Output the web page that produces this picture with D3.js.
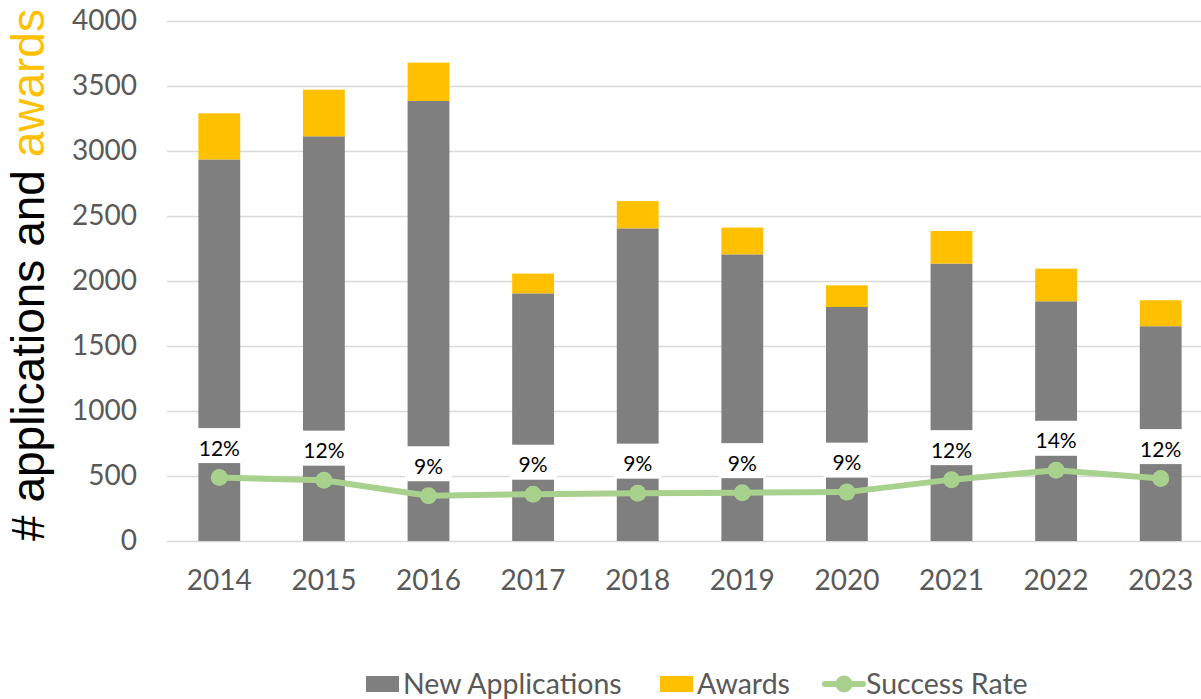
<!DOCTYPE html>
<html>
<head>
<meta charset="utf-8">
<script src="https://cdn.jsdelivr.net/npm/d3@7"></script>
<style>
  body { margin: 0; background: #fff; }
  svg { display: block; }
</style>
</head>
<body>
<div id="chart"></div>
<script>
// Data
const years = ['2014', '2015', '2016', '2017', '2018', '2019', '2020', '2021', '2022', '2023'];
const newApplications = [2935, 3113, 3385, 1905, 2405, 2205, 1800, 2134, 1844, 1652];
const awards = [355, 359, 295, 152, 210, 206, 167, 251, 251, 200];
const successRate = [0.122, 0.117, 0.087, 0.090, 0.092, 0.093, 0.094, 0.118, 0.136, 0.120];
const yTicks = [0, 500, 1000, 1500, 2000, 2500, 3000, 3500, 4000];

const width = 1201;
const height = 699;
const margin = { top: 21, right: -12, bottom: 158, left: 167 };
const innerWidth = width - margin.left - margin.right;
const innerHeight = height - margin.top - margin.bottom;

const grey = '#7f7f7f';
const gold = '#ffc000';
const green = '#a9d18e';
const textGrey = '#595959';
const gridGrey = '#d9d9d9';
const calibri = 'Lato, "Open Sans", sans-serif';

const svg = d3.select('#chart')
    .append('svg')
    .attr('width', width)
    .attr('height', height);

const g = svg.append('g')
    .attr('transform', `translate(${margin.left},${margin.top})`);

// Scales
const xScale = d3.scaleBand()
    .domain(years)
    .range([0, innerWidth])
    .paddingInner(0.6)
    .paddingOuter(0.3);

const yScale = d3.scaleLinear()
    .domain([0, 4000])
    .range([innerHeight, 0]);

// hidden secondary axis for the rate
const rateScale = d3.scaleLinear()
    .domain([0, 1])
    .range([innerHeight, 0]);

// Y axis with gridlines
const yAxis = g.append('g')
    .attr('class', 'y-axis')
    .call(d3.axisLeft(yScale)
        .tickValues(yTicks)
        .tickFormat(d3.format('d'))
        .tickSize(-innerWidth)
        .tickPadding(30));
yAxis.select('.domain').remove();
yAxis.selectAll('line').attr('stroke', gridGrey).attr('stroke-width', 1.5);
yAxis.selectAll('text')
    .attr('fill', textGrey)
    .style('font-family', calibri)
    .style('font-size', '28px');

// X axis labels
const xAxis = g.append('g')
    .attr('class', 'x-axis')
    .attr('transform', `translate(0,${innerHeight})`)
    .call(d3.axisBottom(xScale).tickSize(0));
xAxis.select('.domain').remove();
xAxis.selectAll('text')
    .attr('y', 39)
    .attr('dy', '0.35em')
    .attr('fill', textGrey)
    .style('font-family', calibri)
    .style('font-size', '28px');

// Stacked bars
const rows = years.map((year, i) => ({ year, newApps: newApplications[i], awards: awards[i], rate: successRate[i] }));
const stack = d3.stack().keys(['newApps', 'awards'])(rows);
const colors = { newApps: grey, awards: gold };

g.selectAll('.series')
    .data(stack)
    .enter()
    .append('g')
    .attr('class', 'series')
    .attr('fill', d => colors[d.key])
    .selectAll('rect')
    .data(d => d)
    .enter()
    .append('rect')
    .attr('x', d => xScale(d.data.year))
    .attr('y', d => yScale(d[1]))
    .attr('width', xScale.bandwidth())
    .attr('height', d => yScale(d[0]) - yScale(d[1]));

// Success rate labels (white boxes)
const fmt = d3.format('.0%');
const labels = g.selectAll('.rate-label')
    .data(rows)
    .enter()
    .append('g')
    .attr('class', 'rate-label')
    .attr('transform', d => `translate(${xScale(d.year) + xScale.bandwidth() / 2},${rateScale(d.rate)})`);

labels.append('rect')
    .attr('fill', '#fff');

labels.append('text')
    .attr('text-anchor', 'middle')
    .attr('y', -22)
    .attr('fill', '#000')
    .style('font-family', calibri)
    .style('font-size', '21px')
    .text(d => fmt(d.rate));

labels.each(function () {
    const grp = d3.select(this);
    const w = grp.select('text').node().getComputedTextLength() + 18;
    grp.select('rect')
        .attr('x', -w / 2)
        .attr('y', -49.5)
        .attr('width', w)
        .attr('height', 35);
});

// Success rate line
const line = d3.line()
    .x(d => xScale(d.year) + xScale.bandwidth() / 2)
    .y(d => rateScale(d.rate));

g.append('path')
    .datum(rows)
    .attr('d', line)
    .attr('fill', 'none')
    .attr('stroke', green)
    .attr('stroke-width', 6)
    .attr('stroke-linejoin', 'round');

g.selectAll('.point')
    .data(rows)
    .enter()
    .append('circle')
    .attr('class', 'point')
    .attr('cx', d => xScale(d.year) + xScale.bandwidth() / 2)
    .attr('cy', d => rateScale(d.rate))
    .attr('r', 8.5)
    .attr('fill', green);

// Y axis title
const title = svg.append('text')
    .attr('transform', 'translate(44,275) rotate(-90)')
    .attr('text-anchor', 'middle')
    .style('font-family', '"Liberation Sans", Arial, sans-serif')
    .style('font-size', '46px');
title.append('tspan').attr('fill', '#000').text('# applications and ');
title.append('tspan').attr('fill', gold).text('awards');

// Legend
const legend = svg.append('g').attr('class', 'legend');
const legendY = 684;
const legendFont = '28.5px';

legend.append('rect')
    .attr('x', 366).attr('y', legendY - 8)
    .attr('width', 33).attr('height', 16)
    .attr('fill', grey);
legend.append('text')
    .attr('x', 403).attr('y', legendY).attr('dy', '0.35em')
    .attr('fill', textGrey)
    .style('font-family', calibri).style('font-size', legendFont)
    .text('New Applications');

legend.append('rect')
    .attr('x', 660).attr('y', legendY - 8)
    .attr('width', 33).attr('height', 16)
    .attr('fill', gold);
legend.append('text')
    .attr('x', 697).attr('y', legendY).attr('dy', '0.35em')
    .attr('fill', textGrey)
    .style('font-family', calibri).style('font-size', legendFont)
    .text('Awards');

legend.append('line')
    .attr('x1', 825).attr('x2', 863)
    .attr('y1', legendY).attr('y2', legendY)
    .attr('stroke', green).attr('stroke-width', 6).attr('stroke-linecap', 'round');
legend.append('circle')
    .attr('cx', 844).attr('cy', legendY).attr('r', 8.5)
    .attr('fill', green);
legend.append('text')
    .attr('x', 866).attr('y', legendY).attr('dy', '0.35em')
    .attr('fill', textGrey)
    .style('font-family', calibri).style('font-size', legendFont)
    .text('Success Rate');
</script>
</body>
</html>
